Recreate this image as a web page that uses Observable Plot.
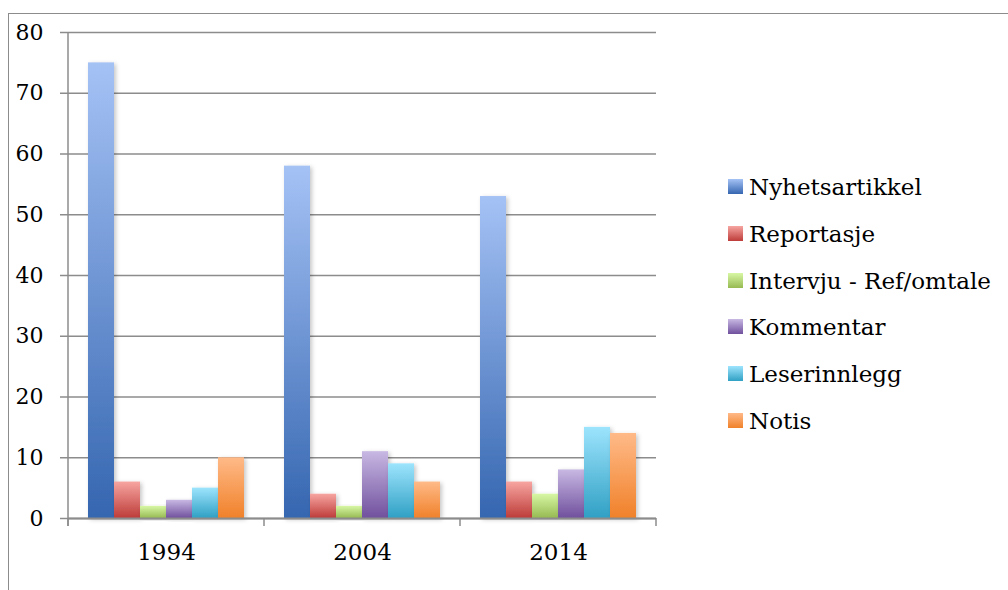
<!DOCTYPE html>
<html><head><meta charset="utf-8">
<script src="https://cdn.jsdelivr.net/npm/d3@7"></script>
<script src="https://cdn.jsdelivr.net/npm/@observablehq/plot@0.6"></script>
<style>
html,body{margin:0;padding:0;background:#fff;width:1008px;height:590px;overflow:hidden;}
#wrap{position:relative;width:1008px;height:590px;}
#border{position:absolute;left:7.5px;top:13px;width:1200px;height:800px;border:1.5px solid #8c8c8c;box-sizing:border-box;}
#chart{position:absolute;left:0;top:0;}
#legend{position:absolute;left:728px;top:164px;font-family:"DejaVu Serif";font-size:23px;color:#000;}
.row{height:46.8px;line-height:46.8px;white-space:nowrap;}
.sw{display:inline-block;width:15px;height:15px;margin-right:6px;margin-bottom:1px;}
</style></head>
<body><div id="wrap"><div id="border"></div><div id="chart"></div><div id="legend"></div></div>
<script>
const years = ["1994", "2004", "2014"];
const series = ["Nyhetsartikkel", "Reportasje", "Intervju - Ref/omtale", "Kommentar", "Leserinnlegg", "Notis"];
const values1994 = [75, 6, 2, 3, 5, 10];
const values2004 = [58, 4, 2, 11, 9, 6];
const values2014 = [53, 6, 4, 8, 15, 14];
const yTicks = [0, 10, 20, 30, 40, 50, 60, 70, 80];
const topColors = ["#a5c2f5", "#f7a5a1", "#d8f7a5", "#c8b8e3", "#9de4fd", "#ffba88"];
const bottomColors = ["#3566b0", "#bd3c39", "#97ba52", "#70509d", "#30a0c4", "#f0812a"];

const valuesByYear = [values1994, values2004, values2014];
const rows = years.flatMap((yr, i) => valuesByYear[i].map((v, j) => ({year: yr, series: series[j], value: v})));

const gray = "#8c8c8c";
const chart = Plot.plot({
  width: 680, height: 590,
  marginLeft: 68, marginRight: 24, marginTop: 32, marginBottom: 72,
  style: {fontFamily: "DejaVu Serif", color: "#000", background: "transparent"},
  fx: {domain: years, padding: 0, label: null},
  x: {domain: series, paddingInner: 0, paddingOuter: 0.72, axis: null},
  y: {domain: [0, 80], label: null},
  color: {domain: series, range: series.map((s, i) => `url(#grad${i})`)},
  marks: [
    Plot.gridY(yTicks, {stroke: gray, strokeOpacity: 1, strokeWidth: 1.5}),
    Plot.axisY(yTicks, {tickSize: 8, tickPadding: 17, fontSize: 22, stroke: gray, strokeWidth: 1.5, label: null, tickFormat: d => String(d)}),
    Plot.axisFx({anchor: "bottom", tickSize: 0, tickPadding: 25, fontSize: 23, label: null}),
    Plot.barY(rows, {fx: "year", x: "series", y: "value", fill: "series"}),
    Plot.ruleY([0], {stroke: gray, strokeWidth: 2})
  ]
});
document.getElementById("chart").appendChild(chart);

const svg = d3.select(chart);
const defs = svg.insert("defs", ":first-child");
series.forEach((s, i) => {
  const g = defs.append("linearGradient").attr("id", "grad" + i)
    .attr("x1", 0).attr("y1", 0).attr("x2", 0).attr("y2", 1);
  g.append("stop").attr("offset", "0%").attr("stop-color", topColors[i]);
  g.append("stop").attr("offset", "100%").attr("stop-color", bottomColors[i]);
});
const f = defs.append("filter").attr("id", "shadow").attr("x", "-20%").attr("y", "-10%").attr("width", "150%").attr("height", "130%");
f.append("feDropShadow").attr("dx", 2).attr("dy", 1.5).attr("stdDeviation", 2).attr("flood-color", "#000").attr("flood-opacity", 0.22);
svg.selectAll('g[aria-label="bar"] rect').attr("filter", "url(#shadow)");

// axis line and category separator ticks from the library's scales
const fxS = chart.scale("fx"), yS = chart.scale("y");
const band = d3.scaleBand(fxS.domain, fxS.range).paddingInner(fxS.paddingInner || 0).paddingOuter(fxS.paddingOuter || 0).align(fxS.align ?? 0.5);
const ys = d3.scaleLinear(yS.domain, yS.range);
const edges = years.map(y => band(y)).concat([band(years[years.length - 1]) + band.bandwidth()]);
const extra = svg.append("g").attr("stroke", gray).attr("stroke-width", 1.5);
extra.append("line").attr("x1", edges[0]).attr("x2", edges[0]).attr("y1", ys(80)).attr("y2", ys(0) + 8);
edges.forEach(x => extra.append("line").attr("x1", x).attr("x2", x).attr("y1", ys(0)).attr("y2", ys(0) + 8));

const legend = d3.select("#legend");
series.forEach((s, i) => {
  const r = legend.append("div").attr("class", "row");
  r.append("span").attr("class", "sw").style("background", `linear-gradient(${topColors[i]}, ${bottomColors[i]})`);
  r.append("span").text(s);
});
</script></body></html>
